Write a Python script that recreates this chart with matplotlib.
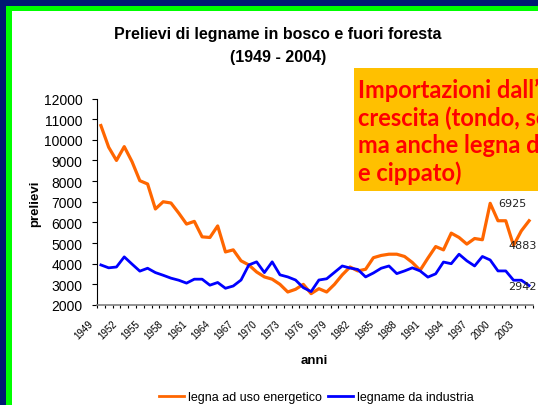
import matplotlib
matplotlib.use('Agg')
import matplotlib.pyplot as plt
import matplotlib.transforms as mtransforms
from matplotlib.patches import Rectangle
from matplotlib.lines import Line2D
import numpy as np

# dati (migliaia di m3)
anni = list(range(1949, 2005))
legna_energetico = [10690, 9640, 9000, 9670, 8940, 8020, 7860, 6650, 7000, 6940,
                    6450, 5920, 6050, 5300, 5270, 5830, 4570, 4670, 4140, 3940,
                    3600, 3360, 3250, 3000, 2630, 2760, 3000, 2550, 2790, 2630,
                    3000, 3460, 3840, 3650, 3730, 4290, 4400, 4460, 4460, 4350,
                    4060, 3680, 4270, 4830, 4670, 5480, 5270, 4950, 5220, 5160,
                    6925, 6080, 6080, 4883, 5590, 6080]
legname_industria = [3940, 3800, 3840, 4330, 3980, 3640, 3780, 3570, 3440, 3300,
                     3200, 3060, 3250, 3250, 2960, 3090, 2810, 2920, 3210, 3940,
                     4090, 3570, 4090, 3460, 3360, 3210, 2840, 2650, 3210, 3270,
                     3580, 3890, 3790, 3720, 3360, 3550, 3780, 3890, 3520, 3650,
                     3800, 3650, 3350, 3510, 4080, 4000, 4460, 4140, 3890, 4350,
                     4180, 3650, 3650, 3200, 3200, 2942]
etichette_anni = [str(a) for a in anni[::3]]

riquadro = ["Importazioni dall\u2019estero in",
            "crescita (tondo, segati,",
            "ma anche legna da ardere",
            "e cippato)"]

W, H = 538, 406
plt.rcParams['font.family'] = ['Liberation Sans', 'DejaVu Sans']

fig = plt.figure(figsize=(W / 100, H / 100), dpi=100)
fig.patch.set_facecolor('white')


def rett_px(x0, y0, x1, y1, colore, z=0):
    # rettangolo in pixel, origine in alto a sinistra
    fig.add_artist(Rectangle((x0 / W, 1 - y1 / H), (x1 - x0) / W, (y1 - y0) / H,
                             transform=fig.transFigure, facecolor=colore,
                             edgecolor='none', zorder=z))


# cornice
rett_px(0, 0, W, 7.2, '#001a73')
rett_px(0, 0, 6.2, H, '#001a73')
rett_px(6.2, 7.2, W, 12.4, '#00ff00')
rett_px(6.2, 7.2, 12.4, H, '#00ff00')

ax = fig.add_axes([97 / W, 1 - 306 / H, 436 / W, 206.5 / H])
ax.patch.set_visible(False)
x = np.arange(len(anni))
ax.plot(x, legna_energetico, color='#FF6600', lw=2.3, label='legna ad uso energetico')
ax.plot(x, legname_industria, color='#0000FF', lw=2.0, label='legname da industria')

ax.set_xlim(-0.5, len(anni) - 0.5)
ax.set_ylim(2000, 12000)
ax.set_yticks(range(2000, 12001, 1000))
ax.set_xticks(x[::3])
ax.set_xticklabels(etichette_anni, rotation=45, ha='right', va='center',
                   rotation_mode='anchor', fontsize=7)
ax.set_xticks(np.arange(-0.5, len(anni), 1), minor=True)
ax.tick_params(axis='x', which='major', length=0, pad=12)
ax.tick_params(axis='x', which='minor', length=2.5, width=0.8, direction='out')
ax.tick_params(axis='y', length=3.6, width=0.8, pad=7, labelsize=10)
spost = mtransforms.ScaledTranslation(-9 / 100, 0, fig.dpi_scale_trans)
for lab in ax.get_xticklabels():
    lab.set_transform(lab.get_transform() + spost)

for s in ['top', 'right']:
    ax.spines[s].set_visible(False)
ax.spines['left'].set_color('black')
ax.spines['bottom'].set_color('#808080')
ax.spines['bottom'].set_linewidth(1.2)

# etichette dei valori
ax.annotate(str(legna_energetico[50]), (50, legna_energetico[50]), xytext=(6, 0),
            textcoords='offset points', ha='left', va='center', fontsize=8,
            family='DejaVu Sans', color='#222222')
ax.annotate(str(legna_energetico[53]), (53, legna_energetico[53]), xytext=(-4, 0),
            textcoords='offset points', ha='left', va='center', fontsize=8,
            family='DejaVu Sans', color='#222222')
ax.annotate(str(legname_industria[55]), (55, legname_industria[55]), xytext=(-15, 0),
            textcoords='offset points', ha='left', va='center', fontsize=8,
            family='DejaVu Sans', color='#222222')

# titoli
fig.text(278 / W, 1 - 35 / H, 'Prelievi di legname in bosco e fuori foresta',
         ha='center', va='center', fontsize=11.5, fontweight='bold')
fig.text(278 / W, 1 - 58 / H, '(1949 - 2004)', ha='center', va='center',
         fontsize=11.5, fontweight='bold')
fig.text(35 / W, 1 - 204 / H, 'prelievi', rotation=90, ha='center', va='center',
         fontsize=9.5, fontweight='bold')
fig.text(314.7 / W, 1 - 361 / H, 'anni', ha='center', va='center',
         fontsize=9.5, fontweight='bold')

maniglie = [Line2D([], [], color='#FF6600', lw=2), Line2D([], [], color='#0000FF', lw=2)]
fig.legend(maniglie, ['legna ad uso energetico', 'legname da industria'],
           loc='center', bbox_to_anchor=(316.5 / W, 1 - 398 / H), ncol=2,
           frameon=False, fontsize=9, handlelength=2.0, handletextpad=0.3,
           columnspacing=0.5)

# riquadro arancione (tagliato dal bordo destro come nell'originale)
rett_px(354, 68.6, W + 5, 191.7, '#FFC000', z=3)
for k, riga in enumerate(riquadro):
    fig.text(358 / W, 1 - (98 + k * 27.7) / H, riga, ha='left', va='baseline',
             fontsize=17, fontweight='bold', family='Lato', color='#FF0000', zorder=4)

fig.savefig('out.png', dpi=100)
